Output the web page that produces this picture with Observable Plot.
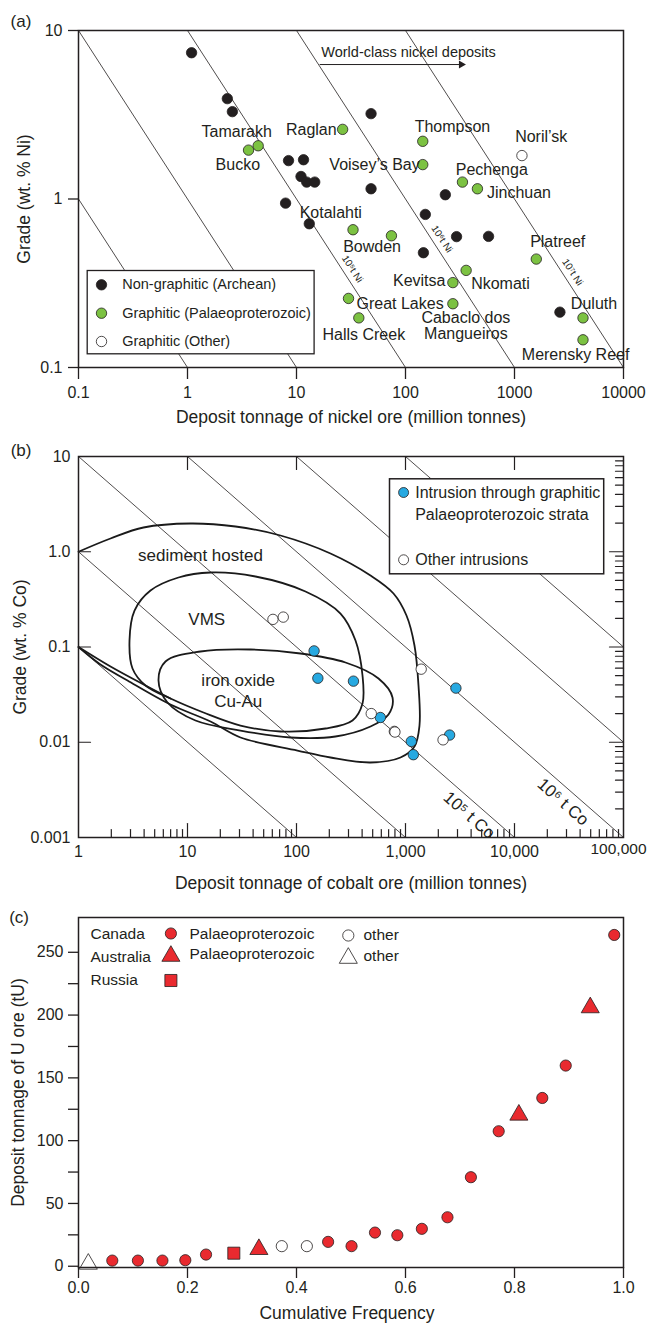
<!DOCTYPE html>
<html>
<head>
<meta charset="utf-8">
<script src="https://cdn.jsdelivr.net/npm/d3@7"></script>
<script src="https://cdn.jsdelivr.net/npm/@observablehq/plot@0.6"></script>
<style>
  html, body { margin: 0; padding: 0; background: #fff; }
  #chart { width: 647px; height: 1324px; }
  #chart svg { display: block; }
</style>
</head>
<body>
<div id="chart"></div>
<script>
// ================= DATA =================
// ---- Panel (a): Ni deposits, tonnage (Mt) vs grade (wt.% Ni)
const niArcheanTonnage = [1.09, 2.32, 2.58, 48.3, 8.45, 11.6, 11.0, 12.4, 14.7, 48.3, 232, 7.94, 13.1, 152, 294, 578, 146, 2610];
const niArcheanGrade   = [7.38, 3.94, 3.30, 3.21, 1.69, 1.71, 1.36, 1.26, 1.26, 1.15, 1.06, 0.945, 0.713, 0.81, 0.598, 0.60, 0.48, 0.213];
const niArcheanName    = ["", "", "", "", "", "", "", "", "", "", "", "", "Kotalahti", "", "", "", "", ""];

const niPalaeoName    = ["Bucko", "Tamarakh", "Raglan", "Thompson", "Voisey’s Bay", "Pechenga", "Jinchuan", "", "Bowden", "Platreef", "Nkomati", "Kevitsa", "Great Lakes", "Cabaclo dos\nMangueiros", "Halls Creek", "Duluth", "Merensky Reef"];
const niPalaeoTonnage = [3.63, 4.45, 26.5, 144, 144, 333, 457, 33, 74.3, 1585, 360, 272, 30, 272, 37.3, 4250, 4250];
const niPalaeoGrade   = [1.95, 2.07, 2.59, 2.2, 1.6, 1.26, 1.15, 0.657, 0.605, 0.44, 0.377, 0.319, 0.257, 0.239, 0.197, 0.197, 0.146];

const niOtherName    = ["Noril’sk"];
const niOtherTonnage = [1170];
const niOtherGrade   = [1.81];

// contained-metal lines (tonnage x grade, Mt·%)
const niMetalProducts = [0.1, 1, 10, 100, 1000];
const niMetalLabelText  = ["10⁵t Ni", "10⁶t Ni", "10⁷t Ni"];
const niMetalLabelMetal = [10, 100, 1000];
const niMetalLabelGrade = [0.36, 0.542, 0.344];

const niXTickValues = [0.1, 1, 10, 100, 1000, 10000];
const niXTickLabels = ["0.1", "1", "10", "100", "1000", "10000"];
const niYTickValues = [0.1, 1, 10];
const niYTickLabels = ["0.1", "1", "10"];

const niLegendText = ["Non-graphitic (Archean)", "Graphitic (Palaeoproterozoic)", "Graphitic (Other)"];

// label placement (pixel offsets from the point)
const niLabelPlacement = [
  {name: "Tamarakh", dx: -21.5, dy: -13.6, anchor: "middle"},
  {name: "Bucko", dx: -10.7, dy: 15.3, anchor: "middle"},
  {name: "Raglan", dx: -6, dy: 1, anchor: "end"},
  {name: "Thompson", dx: 29.7, dy: -14, anchor: "middle"},
  {name: "Noril’sk", dx: 19.3, dy: -19, anchor: "middle"},
  {name: "Voisey’s Bay", dx: -3, dy: 0.7, anchor: "end"},
  {name: "Pechenga", dx: 29.3, dy: -12.4, anchor: "middle"},
  {name: "Jinchuan", dx: 9.5, dy: 4, anchor: "start"},
  {name: "Kotalahti", dx: 21.5, dy: -11, anchor: "middle"},
  {name: "Bowden", dx: -19.4, dy: 11.4, anchor: "middle"},
  {name: "Platreef", dx: 21.4, dy: -17, anchor: "middle"},
  {name: "Kevitsa", dx: -7.4, dy: -2, anchor: "end"},
  {name: "Nkomati", dx: 5, dy: 14, anchor: "start"},
  {name: "Great Lakes", dx: 8, dy: 6, anchor: "start"},
  {name: "Duluth", dx: 11, dy: -13.7, anchor: "middle"},
  {name: "Cabaclo dos\nMangueiros", dx: 13, dy: 22.2, anchor: "middle"},
  {name: "Halls Creek", dx: 5, dy: 17, anchor: "middle"},
  {name: "Merensky Reef", dx: -7.4, dy: 14.7, anchor: "middle"}
];

// ---- Panel (b): Co deposits
const coGraphiticTonnage = [145, 157, 333, 2900, 588, 1130, 1180, 2540];
const coGraphiticGrade   = [0.091, 0.047, 0.0438, 0.037, 0.0182, 0.0102, 0.0074, 0.0119];
const coOtherTonnage = [60.8, 75.6, 1393, 485, 790, 800, 2210];
const coOtherGrade   = [0.195, 0.206, 0.0585, 0.020, 0.0130, 0.0128, 0.0106];

const coMetalProducts = [0.1, 1, 10, 100, 1000, 10000];
const coMetalLabelText  = ["10⁵ t Co", "10⁶ t Co"];
const coMetalLabelMetal = [10, 100];
const coMetalLabelGrade = [0.00217, 0.00299];

// fields: [tonnage, grade]
const sedimentHostedField = [[1, 1.0], [1.966, 1.377], [3.947, 1.797], [10.66, 1.98], [27.56, 1.841], [71.33, 1.481], [205.1, 0.9585], [477.4, 0.563], [776.2, 0.3645], [1021, 0.2141], [1209, 0.1037], [1316, 0.03943], [1344, 0.01499], [1209, 0.009024], [899.7, 0.006918], [477.4, 0.00613], [205.1, 0.006918], [102.1, 0.008191], [30.63, 0.01122], [16.26, 0.01651], [6.983, 0.0249], [2.816, 0.04449], [1.591, 0.06553], [1, 0.1]];
const vmsField = [[2.937, 0.117], [3.265, 0.2416], [4.577, 0.3919], [8.268, 0.5366], [16.26, 0.6056], [42.06, 0.5497], [120.9, 0.3825], [253.3, 0.2247], [347.8, 0.117], [403.3, 0.05021], [403.3, 0.02551], [326.4, 0.01692], [184.5, 0.01394], [71.33, 0.01297], [30.63, 0.01499], [14.02, 0.02053], [6.983, 0.02879], [4.118, 0.03943], [3.129, 0.05947]];
const vmsTail = [[1, 0.1], [1.966, 0.06242], [4.118, 0.03943], [6.983, 0.02879]];
const ironOxideField = [[5.42, 0.04449], [6.283, 0.07045], [13.16, 0.0897], [37.84, 0.09414], [108.8, 0.08545], [281.5, 0.06878], [565.4, 0.0467], [760, 0.0295], [698.2, 0.01955], [477.4, 0.01463], [227.9, 0.01149], [88.1, 0.01122], [30.63, 0.01328], [11.84, 0.01692], [6.554, 0.02615]];
const fieldNames = ["sediment hosted", "VMS", "iron oxide\nCu-Au"];
const fieldLabelTonnage = [13.16, 15.03, 29.2];
const fieldLabelGrade = [0.936, 0.2025, 0.0354];

const coXTickValues = [1, 10, 100, 1000, 10000, 100000];
const coXTickLabels = ["1", "10", "100", "1,000", "10,000", "100,000"];
const coYTickValues = [10, 1, 0.1, 0.01, 0.001];
const coYTickLabels = ["10", "1.0", "0.1", "0.01", "0.001"];
const coLegendText = ["Intrusion through graphitic", "Palaeoproterozoic strata", "Other intrusions"];

// ---- Panel (c): U deposits
const uCumFreq  = [0.018, 0.062, 0.109, 0.154, 0.196, 0.234, 0.285, 0.331, 0.373, 0.419, 0.458, 0.501, 0.544, 0.585, 0.630, 0.677, 0.720, 0.771, 0.808, 0.851, 0.894, 0.939, 0.983];
const uTonnage  = [1.8, 4.5, 4.5, 4.5, 4.8, 9.3, 10.4, 13.5, 16, 16, 19.4, 16, 26.8, 24.7, 29.8, 39, 70.9, 107.5, 120.5, 134, 159.8, 206, 263.8];
const uCountry  = ["Australia", "Canada", "Canada", "Canada", "Canada", "Canada", "Russia", "Australia", "Canada", "Canada", "Canada", "Canada", "Canada", "Canada", "Canada", "Canada", "Canada", "Canada", "Australia", "Canada", "Canada", "Australia", "Canada"];
const uAge      = ["other", "Palaeoproterozoic", "Palaeoproterozoic", "Palaeoproterozoic", "Palaeoproterozoic", "Palaeoproterozoic", "Palaeoproterozoic", "Palaeoproterozoic", "other", "other", "Palaeoproterozoic", "Palaeoproterozoic", "Palaeoproterozoic", "Palaeoproterozoic", "Palaeoproterozoic", "Palaeoproterozoic", "Palaeoproterozoic", "Palaeoproterozoic", "Palaeoproterozoic", "Palaeoproterozoic", "Palaeoproterozoic", "Palaeoproterozoic", "Palaeoproterozoic"];
const uXTickValues = [0, 0.2, 0.4, 0.6, 0.8, 1.0];
const uXTickLabels = ["0.0", "0.2", "0.4", "0.6", "0.8", "1.0"];
const uYTickValues = [0, 25, 50, 75, 100, 125, 150, 175, 200, 225, 250];
const uYTickLabels = ["0", "", "50", "", "100", "", "150", "", "200", "", "250"];

// ================= STYLE / HELPERS =================
const INK = "#231f20";
const FONT = "'Liberation Sans', Arial, Helvetica, sans-serif";
const GREEN = "#7cc242", BLUE = "#27a9e1", RED = "#e92a2f";
const baseStyle = {fontFamily: FONT, fontSize: "16px", color: INK, background: "transparent", overflow: "visible"};

const up = {draw(c, l) { c.moveTo(0, 0); c.lineTo(0, -l); }};
const down = {draw(c, l) { c.moveTo(0, 0); c.lineTo(0, l); }};
const toRight = {draw(c, l) { c.moveTo(0, 0); c.lineTo(l, 0); }};
const toLeft = {draw(c, l) { c.moveTo(0, 0); c.lineTo(-l, 0); }};
function tickVec(values, ch, frameAnchor, length, shape) {
  return Plot.vector(values, {[ch]: d => d, frameAnchor, length, shape, anchor: "start", stroke: INK, strokeWidth: 1.2});
}
function isoSegment(k, [x0, x1], [y0, y1]) {
  const xa = Math.max(x0, k / y1), xb = Math.min(x1, k / y0);
  return [{x: xa, y: k / xa, k}, {x: xb, y: k / xb, k}];
}
function note(text, frameAnchor, dx, dy, opts = {}) {
  return Plot.text([text], {text: d => d, frameAnchor, dx, dy, fill: INK, textAnchor: "middle", lineAnchor: "middle", ...opts});
}
function legendSym(frameAnchor, dx, dy, opts) {
  return Plot.dot([0], {frameAnchor, dx, dy, stroke: INK, strokeWidth: 0.8, ...opts});
}
const zipPts = (t, g, n) => t.map((v, i) => ({t: v, g: g[i], name: n ? n[i] : ""}));

const root = document.getElementById("chart");

// ================= PANEL (a) =================
{
  const xd = [0.1, 10000], yd = [0.1, 10];
  const iso = niMetalProducts.flatMap(k => isoSegment(k, xd, yd));
  const isoLab = niMetalLabelText.map((s, i) => ({s, x: niMetalLabelMetal[i] / niMetalLabelGrade[i], y: niMetalLabelGrade[i]}));
  const arch = zipPts(niArcheanTonnage, niArcheanGrade, niArcheanName);
  const pal = zipPts(niPalaeoTonnage, niPalaeoGrade, niPalaeoName);
  const oth = zipPts(niOtherTonnage, niOtherGrade, niOtherName);
  const named = [...arch, ...pal, ...oth].filter(d => d.name);
  const labelMarks = named.map(d => {
    const p = niLabelPlacement.find(q => q.name === d.name);
    return Plot.text([d], {x: "t", y: "g", text: "name", dx: p.dx, dy: p.dy, textAnchor: p.anchor, lineAnchor: "middle", fontSize: 16, lineHeight: 0.98, fill: INK});
  });
  const arrowY = 6.28;
  const svg = Plot.plot({
    width: 647, height: 430, marginLeft: 78, marginRight: 24, marginTop: 30, marginBottom: 63,
    style: baseStyle,
    x: {type: "log", domain: xd},
    y: {type: "log", domain: yd},
    marks: [
      Plot.line(iso, {x: "x", y: "y", z: "k", stroke: INK, strokeWidth: 0.8}),
      Plot.text(isoLab, {x: "x", y: "y", text: "s", rotate: 57.1, dx: 7.5, dy: -4.9, fontSize: 10, fill: INK}),
      Plot.text(["World-class nickel deposits"], {x: () => 106.7, y: () => 7.43, text: d => d, fontSize: 14.5, fill: INK}),
      Plot.link([0], {x1: () => 16.3, x2: () => 320, y1: () => arrowY, y2: () => arrowY, stroke: INK, strokeWidth: 1}),
      Plot.dot([0], {x: () => 325, y: () => arrowY, symbol: "triangle", rotate: 90, r: 3, fill: INK}),
      Plot.dot(arch, {x: "t", y: "g", r: 5.2, fill: INK, stroke: INK, strokeWidth: 0.8}),
      Plot.dot(pal, {x: "t", y: "g", r: 5.2, fill: GREEN, stroke: INK, strokeWidth: 0.8}),
      Plot.dot(oth, {x: "t", y: "g", r: 5.2, fill: "white", stroke: INK, strokeWidth: 0.8}),
      ...labelMarks,
      // legend
      Plot.frame({insetLeft: 8.7, insetTop: 240, insetRight: 309.4, insetBottom: 13.7, fill: "white", stroke: INK, strokeWidth: 1.3}),
      legendSym("top-left", 23, 254.3, {r: 5.2, fill: INK}),
      legendSym("top-left", 23, 282.7, {r: 5.2, fill: GREEN}),
      legendSym("top-left", 23, 311, {r: 5.2, fill: "white"}),
      note(niLegendText[0], "top-left", 43.7, 254.3, {textAnchor: "start", fontSize: 14.5}),
      note(niLegendText[1], "top-left", 43.7, 282.7, {textAnchor: "start", fontSize: 14.5}),
      note(niLegendText[2], "top-left", 43.7, 311, {textAnchor: "start", fontSize: 14.5}),
      // axes
      Plot.axisY(niYTickValues, {anchor: "left", tickSize: 10, tickPadding: 6, strokeWidth: 1.3, fontSize: 16, label: null, tickFormat: d => niYTickLabels[niYTickValues.indexOf(d)]}),
      Plot.axisX(niXTickValues, {anchor: "bottom", tickSize: 12, tickPadding: 7, strokeWidth: 1.3, fontSize: 16, label: null, tickFormat: d => niXTickLabels[niXTickValues.indexOf(d)]}),
      Plot.frame({stroke: INK, strokeWidth: 1.5}),
      note("(a)", "top-left", -57.5, -9, {fontSize: 17}),
      note("Grade (wt. % Ni)", "left", -54, 0, {rotate: -90, fontSize: 17.5}),
      note("Deposit tonnage of nickel ore (million tonnes)", "bottom", 0, 49.7, {fontSize: 17.5})
    ]
  });
  root.appendChild(svg);
}

// ================= PANEL (b) =================
{
  const xd = [1, 100000], yd = [0.001, 10];
  const iso = coMetalProducts.flatMap(k => isoSegment(k, xd, yd));
  const isoLab = coMetalLabelText.map((s, i) => ({s, x: coMetalLabelMetal[i] / coMetalLabelGrade[i], y: coMetalLabelGrade[i]}));
  const gra = zipPts(coGraphiticTonnage, coGraphiticGrade);
  const oth = zipPts(coOtherTonnage, coOtherGrade);
  const fieldLab = fieldNames.map((s, i) => ({s, x: fieldLabelTonnage[i], y: fieldLabelGrade[i]}));
  const xMajor = [10, 100, 1000, 10000];
  const xMinor = [1, 10, 100, 1000, 10000].flatMap(k => [2, 3, 4, 5, 6, 7, 8, 9].map(m => k * m));
  const yMajor = [1, 0.1, 0.01];
  const yMinor = [0.001, 0.01, 0.1, 1].flatMap(k => [2, 3, 4, 5, 6, 7, 8, 9].map(m => +(k * m).toPrecision(3)));
  const fieldStyle = {x: d => d[0], y: d => d[1], stroke: "#1a1a1a", strokeWidth: 1.8, fill: "none"};
  const lastX = coXTickValues.slice(-1), otherX = coXTickValues.slice(0, -1);
  const xFmt = d => coXTickLabels[coXTickValues.indexOf(d)];
  const svg = Plot.plot({
    width: 647, height: 460, marginLeft: 78, marginRight: 24, marginTop: 26, marginBottom: 53,
    style: baseStyle,
    x: {type: "log", domain: xd},
    y: {type: "log", domain: yd},
    marks: [
      Plot.line(iso, {x: "x", y: "y", z: "k", stroke: INK, strokeWidth: 0.8}),
      Plot.text(isoLab, {x: "x", y: "y", text: "s", rotate: 41.2, dx: -8.6, dy: 9.8, fontSize: 17, fill: INK}),
      Plot.line(sedimentHostedField, {...fieldStyle, curve: "catmull-rom"}),
      Plot.line(vmsField, {...fieldStyle, curve: "catmull-rom-closed"}),
      Plot.line(vmsTail, {...fieldStyle, curve: "catmull-rom"}),
      Plot.line(ironOxideField, {...fieldStyle, curve: "catmull-rom-closed"}),
      Plot.text(fieldLab, {x: "x", y: "y", text: "s", fontSize: 17, lineHeight: 1.25, fill: INK}),
      Plot.dot(gra, {x: "t", y: "g", r: 5.2, fill: BLUE, stroke: INK, strokeWidth: 0.8}),
      Plot.dot(oth, {x: "t", y: "g", r: 5.2, fill: "white", stroke: INK, strokeWidth: 0.8}),
      // legend
      Plot.frame({insetLeft: 311, insetTop: 22.3, insetRight: 19.8, insetBottom: 263.7, fill: "white", stroke: INK, strokeWidth: 1.5}),
      legendSym("top-left", 325.1, 36, {r: 5, fill: BLUE}),
      legendSym("top-left", 325.1, 103.3, {r: 5, fill: "white"}),
      note(coLegendText[0], "top-left", 336.7, 36, {textAnchor: "start", fontSize: 16}),
      note(coLegendText[1], "top-left", 336.7, 58.3, {textAnchor: "start", fontSize: 16}),
      note(coLegendText[2], "top-left", 336.7, 103.3, {textAnchor: "start", fontSize: 16}),
      // ticks
      tickVec(xMajor, "x", "bottom", 14, up),
      tickVec(xMinor, "x", "bottom", 8, up),
      tickVec(xMajor, "x", "top", 13, down),
      tickVec(yMajor, "y", "left", 12, toRight),
      tickVec(yMajor, "y", "right", 14, toLeft),
      tickVec(yMinor, "y", "right", 8, toLeft),
      Plot.axisY(coYTickValues, {anchor: "left", tickSize: 0, tickPadding: 8, fontSize: 16, label: null, tickFormat: d => coYTickLabels[coYTickValues.indexOf(d)]}),
      Plot.axisX(otherX, {anchor: "bottom", tickSize: 0, tickPadding: 8, fontSize: 16, label: null, tickFormat: xFmt}),
      Plot.axisX(lastX, {anchor: "bottom", tickSize: 0, tickPadding: 5, dx: -5, fontSize: 15.5, label: null, tickFormat: xFmt}),
      Plot.frame({stroke: INK, strokeWidth: 1.5}),
      note("(b)", "top-left", -57.4, -6, {fontSize: 17}),
      note("Grade (wt. % Co)", "left", -58, 0, {rotate: -90, fontSize: 17.5}),
      note("Deposit tonnage of cobalt ore (million tonnes)", "bottom", 0, 45.7, {fontSize: 17.5})
    ]
  });
  root.appendChild(svg);
}

// ================= PANEL (c) =================
{
  const rows = uCumFreq.map((f, i) => ({f, t: uTonnage[i], country: uCountry[i], age: uAge[i]}));
  const sel = (c, a) => rows.filter(d => d.country === c && d.age === a);
  const svg = Plot.plot({
    width: 647, height: 434, marginLeft: 78, marginRight: 24, marginTop: 27, marginBottom: 57,
    style: baseStyle,
    x: {domain: [0, 1]},
    y: {domain: [-1, 277.7]},
    marks: [
      Plot.dot(sel("Canada", "Palaeoproterozoic"), {x: "f", y: "t", r: 5.6, fill: RED, stroke: INK, strokeWidth: 0.8}),
      Plot.dot(sel("Canada", "other"), {x: "f", y: "t", r: 5.6, fill: "white", stroke: INK, strokeWidth: 0.8}),
      Plot.dot(sel("Australia", "Palaeoproterozoic"), {x: "f", y: "t", r: 6.7, symbol: "triangle", fill: RED, stroke: INK, strokeWidth: 0.8}),
      Plot.dot(sel("Australia", "other"), {x: "f", y: "t", r: 6.7, symbol: "triangle", fill: "white", stroke: INK, strokeWidth: 0.8}),
      Plot.dot(sel("Russia", "Palaeoproterozoic"), {x: "f", y: "t", r: 6.8, symbol: "square", fill: RED, stroke: INK, strokeWidth: 0.8}),
      // legend
      note("Canada", "top-left", 12, 16.3, {textAnchor: "start", fontSize: 15.5}),
      note("Australia", "top-left", 12, 39.7, {textAnchor: "start", fontSize: 15.5}),
      note("Russia", "top-left", 12, 63, {textAnchor: "start", fontSize: 15.5}),
      legendSym("top-left", 92.4, 16, {r: 5.6, fill: RED}),
      legendSym("top-left", 92.4, 38.6, {r: 6.7, symbol: "triangle", fill: RED}),
      legendSym("top-left", 92.4, 63, {r: 6.8, symbol: "square", fill: RED}),
      note("Palaeoproterozoic", "top-left", 111, 16.3, {textAnchor: "start", fontSize: 15.5}),
      note("Palaeoproterozoic", "top-left", 111, 36.3, {textAnchor: "start", fontSize: 15.5}),
      legendSym("top-left", 269.8, 18, {r: 5.6, fill: "white"}),
      legendSym("top-left", 269.8, 40.6, {r: 6.7, symbol: "triangle", fill: "white"}),
      note("other", "top-left", 285, 18, {textAnchor: "start", fontSize: 15.5}),
      note("other", "top-left", 285, 38.3, {textAnchor: "start", fontSize: 15.5}),
      // axes
      Plot.axisY(uYTickValues, {anchor: "left", tickSize: 10, tickPadding: 5, strokeWidth: 1.3, fontSize: 16, label: null, tickFormat: d => uYTickLabels[uYTickValues.indexOf(d)]}),
      Plot.axisX(uXTickValues, {anchor: "bottom", tickSize: 11, tickPadding: 3, strokeWidth: 1.3, fontSize: 16, label: null, tickFormat: d => uXTickLabels[uXTickValues.indexOf(d)]}),
      Plot.frame({stroke: INK, strokeWidth: 1.5}),
      note("(c)", "top-left", -59.4, -0.3, {fontSize: 17}),
      note("Deposit tonnage of U ore (tU)", "left", -60.4, 0, {rotate: -90, fontSize: 17.5}),
      note("Cumulative Frequency", "bottom", -4, 46.3, {fontSize: 17.5})
    ]
  });
  root.appendChild(svg);
}
</script>
</body>
</html>
